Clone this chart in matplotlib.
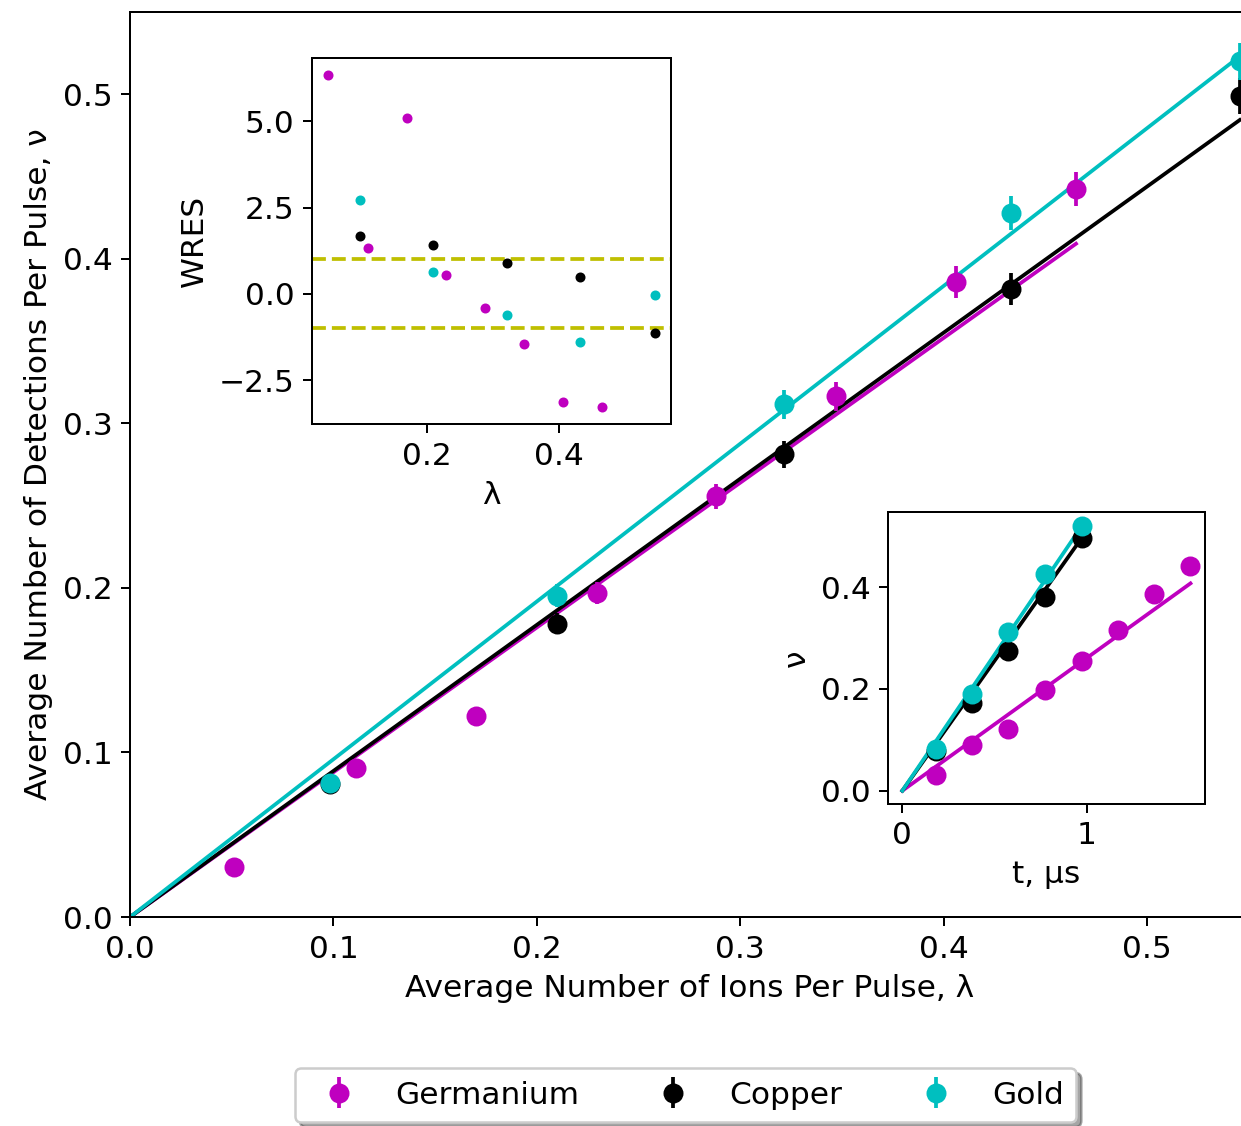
import numpy as np
from matplotlib import pyplot as plt

plt.rcParams['font.size'] = 12.5

# main plot data: lambda, nu, error
lam_ge = [0.051, 0.111, 0.170, 0.2295, 0.288, 0.347, 0.406, 0.465]
nu_ge = [0.0304, 0.0907, 0.122, 0.197, 0.2556, 0.3165, 0.386, 0.4425]
err_ge = [0.0027, 0.0047, 0.0054, 0.0069, 0.0078, 0.0087, 0.0096, 0.0103]

lam_cu = [0.0983, 0.2098, 0.3214, 0.4329, 0.5455]
nu_cu = [0.081, 0.1783, 0.2812, 0.3816, 0.499]
err_cu = [0.0044, 0.0065, 0.0082, 0.0096, 0.0110]

lam_au = [0.0983, 0.2098, 0.3214, 0.4329, 0.5455]
nu_au = [0.0816, 0.1954, 0.3116, 0.4279, 0.520]
err_au = [0.0044, 0.0068, 0.0087, 0.0101, 0.0112]

# fitted slopes
k_ge, k_cu, k_au = 0.880, 0.888, 0.959

# residuals inset
wres_ge = [6.35, 1.34, 5.09, 0.56, -0.42, -1.46, -3.14, -3.29]
wres_cu = [1.68, 1.41, 0.89, 0.49, -1.14]
wres_au = [2.71, 0.64, -0.62, -1.40, -0.03]

# time inset
t_ge = [0.184, 0.378, 0.572, 0.771, 0.975, 1.171, 1.366, 1.561]
t_cu = [0.184, 0.378, 0.572, 0.771, 0.975]
nu_cu_t = [0.078, 0.173, 0.2755, 0.3805, 0.4966]
nu_au_t = [0.0817, 0.191, 0.311, 0.4257, 0.521]
kt_ge, kt_cu, kt_au = 0.261, 0.511, 0.535

fig = plt.figure(figsize=(1241/180, 1126/180), dpi=180)
ax = fig.add_axes([0.1048, 0.1856, 0.9016, 0.8037])

ax.plot([0, lam_ge[-1]], [0, k_ge*lam_ge[-1]], 'm-', lw=1.5)
ax.plot([0, lam_cu[-1]], [0, k_cu*lam_cu[-1]], 'k-', lw=1.5)
ax.plot([0, lam_au[-1]], [0, k_au*lam_au[-1]], 'c-', lw=1.5)
ax.errorbar(lam_ge, nu_ge, yerr=err_ge, fmt='mo', ms=7, label='Germanium')
ax.errorbar(lam_cu, nu_cu, yerr=err_cu, fmt='ko', ms=7, label='Copper')
ax.errorbar(lam_au, nu_au, yerr=err_au, fmt='co', ms=7, label='Gold')
ax.set_xlim(0, 0.55)
ax.set_ylim(0, 0.55)
ax.set_xlabel('Average Number of Ions Per Pulse, λ')
ax.set_ylabel('Average Number of Detections Per Pulse, ν')

# residuals
ax1 = fig.add_axes([0.2514, 0.6234, 0.2893, 0.3250])
ax1.axhline(1, color='y', ls='--', lw=1.5)
ax1.axhline(-1, color='y', ls='--', lw=1.5)
ax1.plot(lam_ge, wres_ge, 'mo', ms=3)
ax1.plot(lam_cu, wres_cu, 'ko', ms=3)
ax1.plot(lam_au, wres_au, 'co', ms=3)
ax1.set_yticks([-2.5, 0.0, 2.5, 5.0])
ax1.set_xticks([0.2, 0.4])
ax1.set_xlabel('λ')
ax1.set_ylabel('WRES')

# vs time
ax2 = fig.add_axes([0.7155, 0.286, 0.2554, 0.2593])
ax2.plot([0, t_ge[-1]], [0, kt_ge*t_ge[-1]], 'm-', lw=1.5)
ax2.plot([0, t_cu[-1]], [0, kt_cu*t_cu[-1]], 'k-', lw=1.5)
ax2.plot([0, t_cu[-1]], [0, kt_au*t_cu[-1]], 'c-', lw=1.5)
ax2.plot(t_ge, nu_ge, 'mo', ms=7)
ax2.plot(t_cu, nu_cu_t, 'ko', ms=7)
ax2.plot(t_cu, nu_au_t, 'co', ms=7)
ax2.set_xticks([0, 1])
ax2.set_yticks([0.0, 0.2, 0.4])
ax2.set_xlabel('t, μs')
ax2.set_ylabel('ν')

fig.legend(loc='center', bbox_to_anchor=(0.5525, 0.0275), ncol=3,
           shadow=True, fontsize=12.5)

fig.savefig('out.png', dpi=180)
